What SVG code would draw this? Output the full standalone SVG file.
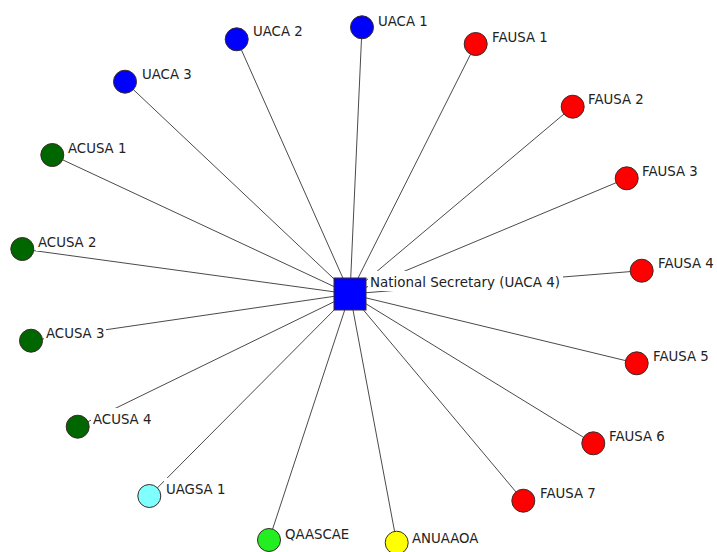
<svg xmlns="http://www.w3.org/2000/svg" width="717" height="552" viewBox="0 0 717 552">
  <style>
    .edge { stroke: #4a4a4a; stroke-width: 1; fill: none; }
    .node { stroke: #3a2a2a; stroke-width: 1; }
    .lblbg { fill: #ffffff; stroke: none; }
    .lbl { font-family: "DejaVu Sans", "Noto Sans", sans-serif; font-size: 13.3px; fill: #222222; }
    .red { fill: #ff0000; }
    .blue { fill: #0000ff; }
    .dgreen { fill: #006600; }
    .cyan { fill: #80ffff; }
    .lgreen { fill: #22ee22; }
    .yellow { fill: #ffff00; }
  </style>

  <rect width="717" height="552" fill="#ffffff"/>

  <!-- spokes from the National Secretary hub -->
  <g id="connectors">
    <line class="edge" x1="350" y1="294" x2="362" y2="27.3"/>
    <line class="edge" x1="350" y1="294" x2="236.7" y2="39.3"/>
    <line class="edge" x1="350" y1="294" x2="125" y2="81.7"/>
    <line class="edge" x1="350" y1="294" x2="475.7" y2="44"/>
    <line class="edge" x1="350" y1="294" x2="572.7" y2="106.7"/>
    <line class="edge" x1="350" y1="294" x2="626.7" y2="178.3"/>
    <line class="edge" x1="350" y1="294" x2="641.7" y2="270.7"/>
    <line class="edge" x1="350" y1="294" x2="636.7" y2="363.3"/>
    <line class="edge" x1="350" y1="294" x2="593.3" y2="443.3"/>
    <line class="edge" x1="350" y1="294" x2="523.3" y2="500.7"/>
    <line class="edge" x1="350" y1="294" x2="52.3" y2="155"/>
    <line class="edge" x1="350" y1="294" x2="22.3" y2="249"/>
    <line class="edge" x1="350" y1="294" x2="31" y2="340.7"/>
    <line class="edge" x1="350" y1="294" x2="77.7" y2="426.7"/>
    <line class="edge" x1="350" y1="294" x2="149.3" y2="496"/>
    <line class="edge" x1="350" y1="294" x2="269" y2="540"/>
    <line class="edge" x1="350" y1="294" x2="396.7" y2="542.7"/>
  </g>

  <!-- hub -->
  <g id="national-secretary">
    <rect class="node blue" x="334" y="278" width="32" height="32"/>
    <rect class="lblbg" x="368" y="271" width="195" height="20"/>
    <text class="lbl" x="370" y="287" textLength="190" lengthAdjust="spacingAndGlyphs">National Secretary (UACA 4)</text>
  </g>

  <g id="uaca-1">
    <circle class="node blue" cx="362" cy="27.3" r="11.5"/>
    <rect class="lblbg" x="376" y="10" width="55" height="20"/>
    <text class="lbl" x="378" y="26">UACA 1</text>
  </g>
  <g id="uaca-2">
    <circle class="node blue" cx="236.7" cy="39.3" r="11.5"/>
    <rect class="lblbg" x="251" y="20" width="55" height="20"/>
    <text class="lbl" x="253" y="36">UACA 2</text>
  </g>
  <g id="uaca-3">
    <circle class="node blue" cx="125" cy="81.7" r="11.5"/>
    <rect class="lblbg" x="140" y="63" width="55" height="20"/>
    <text class="lbl" x="142" y="79">UACA 3</text>
  </g>

  <g id="fausa-1">
    <circle class="node red" cx="475.7" cy="44" r="11.5"/>
    <rect class="lblbg" x="490" y="26" width="61" height="20"/>
    <text class="lbl" x="492" y="42">FAUSA 1</text>
  </g>
  <g id="fausa-2">
    <circle class="node red" cx="572.7" cy="106.7" r="11.5"/>
    <rect class="lblbg" x="586" y="88" width="61" height="20"/>
    <text class="lbl" x="588" y="104">FAUSA 2</text>
  </g>
  <g id="fausa-3">
    <circle class="node red" cx="626.7" cy="178.3" r="11.5"/>
    <rect class="lblbg" x="640" y="160" width="61" height="20"/>
    <text class="lbl" x="642" y="176">FAUSA 3</text>
  </g>
  <g id="fausa-4">
    <circle class="node red" cx="641.7" cy="270.7" r="11.5"/>
    <rect class="lblbg" x="656" y="252" width="61" height="20"/>
    <text class="lbl" x="658" y="268">FAUSA 4</text>
  </g>
  <g id="fausa-5">
    <circle class="node red" cx="636.7" cy="363.3" r="11.5"/>
    <rect class="lblbg" x="651" y="345" width="61" height="20"/>
    <text class="lbl" x="653" y="361">FAUSA 5</text>
  </g>
  <g id="fausa-6">
    <circle class="node red" cx="593.3" cy="443.3" r="11.5"/>
    <rect class="lblbg" x="607" y="425" width="61" height="20"/>
    <text class="lbl" x="609" y="441">FAUSA 6</text>
  </g>
  <g id="fausa-7">
    <circle class="node red" cx="523.3" cy="500.7" r="11.5"/>
    <rect class="lblbg" x="538" y="482" width="61" height="20"/>
    <text class="lbl" x="540" y="498">FAUSA 7</text>
  </g>

  <g id="acusa-1">
    <circle class="node dgreen" cx="52.3" cy="155" r="11.5"/>
    <rect class="lblbg" x="66" y="137" width="64" height="20"/>
    <text class="lbl" x="68" y="153">ACUSA 1</text>
  </g>
  <g id="acusa-2">
    <circle class="node dgreen" cx="22.3" cy="249" r="11.5"/>
    <rect class="lblbg" x="36" y="231" width="64" height="20"/>
    <text class="lbl" x="38" y="247">ACUSA 2</text>
  </g>
  <g id="acusa-3">
    <circle class="node dgreen" cx="31" cy="340.7" r="11.5"/>
    <rect class="lblbg" x="44" y="322" width="62" height="20"/>
    <text class="lbl" x="46" y="338">ACUSA 3</text>
  </g>
  <g id="acusa-4">
    <circle class="node dgreen" cx="77.7" cy="426.7" r="11.5"/>
    <rect class="lblbg" x="91" y="408" width="64" height="20"/>
    <text class="lbl" x="93" y="424">ACUSA 4</text>
  </g>

  <g id="uagsa-1">
    <circle class="node cyan" cx="149.3" cy="496" r="11.5"/>
    <rect class="lblbg" x="164" y="478" width="63" height="20"/>
    <text class="lbl" x="166" y="494">UAGSA 1</text>
  </g>
  <g id="qaascae">
    <circle class="node lgreen" cx="269" cy="540" r="11.5"/>
    <rect class="lblbg" x="283" y="523" width="68" height="20"/>
    <text class="lbl" x="285" y="539">QAASCAE</text>
  </g>
  <g id="anuaaoa">
    <circle class="node yellow" cx="396.7" cy="542.7" r="11.5"/>
    <rect class="lblbg" x="410" y="527" width="73" height="20"/>
    <text class="lbl" x="412" y="543">ANUAAOA</text>
  </g>
</svg>
